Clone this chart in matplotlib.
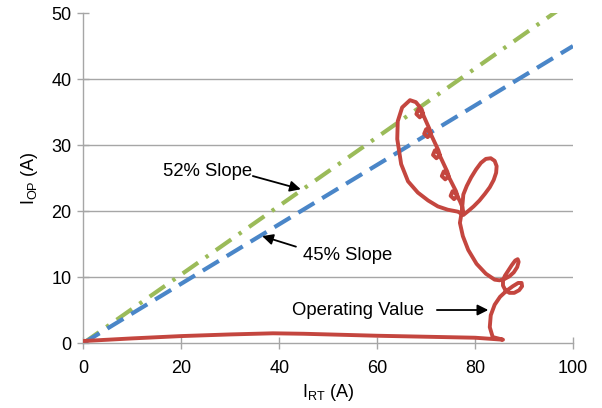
import matplotlib
matplotlib.use("Agg")
import matplotlib.pyplot as plt

# Slope lines (restraint characteristic)
slope_x = [0, 100]
slope_52 = [0, 52]
slope_45 = [0, 45]

# Operating value trajectory (I_RT, I_OP)
op_x = [0, 5, 10, 20, 30, 38.7, 45, 50, 60, 70, 80, 85.7, 83.6,
        83.0, 83.2, 84.0, 85.1,
        86.4, 87.7, 88.8, 89.5, 89.6, 89.0, 88.0, 87.0, 86.2, 85.7, 85.7, 86.1,
        86.8, 87.5, 88.2, 88.7, 88.9, 88.6, 87.9, 87.0, 86.0, 85.0, 84.0,
        82.2, 80.3, 78.6, 77.5, 76.9, 77.3, 77.6,
        78.3, 79.2, 80.2, 81.2, 82.2, 83.2, 84.0, 84.4, 84.3, 83.8, 83.0,
        82.0, 80.9, 79.7, 78.6, 77.6,
        76.5, 74.4, 72.4, 70.4, 68.3, 66.3, 64.9, 64.1, 64.2, 65.1, 66.7, 67.9,
        69.1, 69.4, 68.7, 68.0, 68.4, 69.2,
        70.7, 71.0, 70.3, 69.6, 70.0, 70.8,
        72.5, 72.8, 72.1, 71.4, 71.8, 72.6,
        74.3, 74.6, 73.9, 73.2, 73.6, 74.4,
        76.1, 76.4, 75.7, 75.0, 75.4, 76.2,
        76.9, 77.4, 77.6]
op_y = [0.3, 0.5, 0.7, 1.05, 1.3, 1.47, 1.4, 1.3, 1.1, 0.95, 0.8, 0.5, 0.9,
        2.4, 4.2, 5.8, 7.0,
        7.9, 8.6, 9.1, 9.1, 8.6, 8.0, 7.6, 7.6, 8.0, 8.7, 9.5, 10.2,
        11.0, 11.8, 12.5, 12.7, 12.3, 11.5, 10.7, 10.1, 9.7, 9.5, 9.6,
        10.5, 12.0, 14.1, 16.2, 18.2, 20.0, 22.5,
        23.8, 25.1, 26.3, 27.3, 27.9, 28.0, 27.6, 26.8, 25.8, 24.7, 23.6,
        22.6, 21.6, 20.7, 20.0, 19.4,
        19.9, 20.2, 20.7, 21.6, 22.8, 24.5, 27.1, 30.9, 33.6, 35.7, 36.8, 36.5,
        35.4, 34.7, 34.2, 34.7, 35.4, 34.9,
        32.4, 31.7, 31.2, 31.7, 32.4, 31.9,
        29.2, 28.5, 28.0, 28.5, 29.2, 28.7,
        26.0, 25.3, 24.8, 25.3, 26.0, 25.5,
        23.0, 22.3, 21.8, 22.3, 23.0, 22.5,
        21.5, 20.6, 19.8]

x_ticks = [0, 20, 40, 60, 80, 100]
y_ticks = [0, 10, 20, 30, 40, 50]

plt.rcParams["font.family"] = ["Liberation Sans", "DejaVu Sans"]
plt.rcParams["mathtext.fontset"] = "custom"
plt.rcParams["mathtext.rm"] = "Liberation Sans"
plt.rcParams["mathtext.it"] = "Liberation Sans"

fig = plt.figure(figsize=(6.02, 4.08), dpi=100)
ax = fig.add_axes([0.1387, 0.1593, 0.9518 - 0.1387, 0.968 - 0.1593])

# Gridlines at 10..40 only
for yv in y_ticks[1:-1]:
    ax.axhline(yv, color="#a6a6a6", linewidth=1.0, zorder=0)

ax.plot(slope_x, slope_52, color="#9BBB59", linewidth=3.0,
        dashes=(4.5, 2.2, 0.8, 2.2), zorder=2)
ax.plot(slope_x, slope_45, color="#4A86C8", linewidth=3.0,
        dashes=(4.5, 2.2), zorder=2)
ax.plot(op_x, op_y, color="#C4463F", linewidth=2.8,
        solid_joinstyle="round", solid_capstyle="round", zorder=3)

# Annotations
arrow = dict(arrowstyle="-|>", color="black", lw=1.3,
             mutation_scale=16, shrinkA=0, shrinkB=0)
ax.annotate("", xy=(44.4, 23.3), xytext=(34.6, 25.3), arrowprops=arrow)
ax.text(16.2, 26.0, "52% Slope", fontsize=13.3, va="center", ha="left")
ax.annotate("", xy=(36.5, 16.2), xytext=(43.4, 14.6), arrowprops=arrow)
ax.text(44.8, 13.2, "45% Slope", fontsize=13.3, va="center", ha="left")
ax.annotate("", xy=(82.7, 5.0), xytext=(72.2, 5.0), arrowprops=arrow)
ax.text(42.6, 5.0, "Operating Value", fontsize=13.3, va="center", ha="left")

ax.set_xlim(0, 100)
ax.set_ylim(0, 50)
ax.set_xticks(x_ticks)
ax.set_yticks(y_ticks)

for side in ["top", "right"]:
    ax.spines[side].set_visible(False)
for side in ["left", "bottom"]:
    ax.spines[side].set_color("#a6a6a6")
    ax.spines[side].set_linewidth(1.0)

ax.tick_params(axis="both", direction="inout", length=8, width=1.0,
               color="#a6a6a6", labelsize=13, labelcolor="black")
ax.tick_params(axis="x", pad=8.5)
ax.tick_params(axis="y", pad=4.5)

ax.set_xlabel(r"I$_{\mathrm{RT}}$ (A)", fontsize=13, labelpad=3)
ax.set_ylabel(r"I$_{\mathrm{OP}}$ (A)", fontsize=13, labelpad=8)

fig.savefig("out.png", dpi=100)
